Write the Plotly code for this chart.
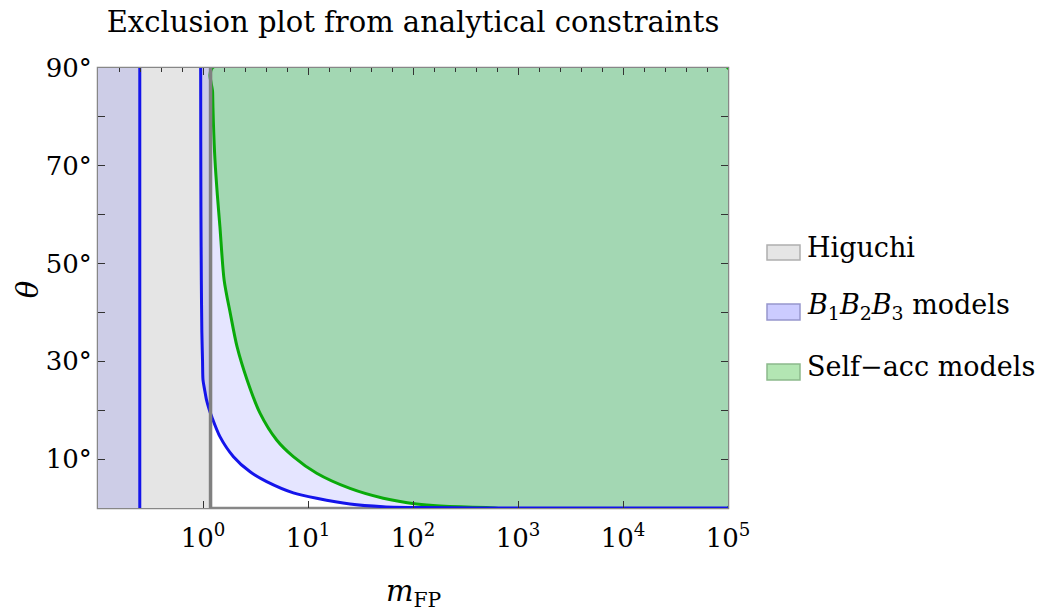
import numpy as np
import plotly.graph_objects as go

# ---------------- data ----------------
X_MIN, X_MAX = 0.1, 1e5            # plotted m_FP range
THETA_MIN, THETA_MAX = 0, 90       # plotted theta range (degrees)

HIGUCHI_M = 1.18                   # Higuchi bound
B_STRIP_M = 0.25                   # B1B2B3 lower strip bound

blue_m = [0.95, 0.952, 0.956, 0.964, 0.975, 0.99, 1.0, 1.04, 1.08, 1.14, 1.21,
          1.45, 1.95, 2.81, 4.04, 7.25, 12.1, 25.1, 52, 120, 400, 1e5]
blue_theta = [90, 75, 60, 46.6, 36, 30, 26.2, 24, 22.1, 20.3, 18.7,
              14.6, 10.5, 7.4, 5.4, 3.1, 2.0, 0.82, 0.27, 0.08, 0.02, 0]

green_m = [1.226, 1.235, 1.255, 1.30, 1.37, 1.45, 1.59, 1.82, 2.11, 2.63, 3.49,
           5.03, 7.25, 12.1, 25.1, 52.1, 108, 181, 500, 1e5]
green_theta = [90, 85, 79, 71.2, 64, 57.5, 46.6, 39.8, 33.0, 26.2, 19.4,
               13.9, 10.5, 7.1, 4.0, 2.0, 0.82, 0.41, 0.1, 0]

x_tick_vals = [1, 10, 100, 1e3, 1e4, 1e5]
x_tick_text = ["10<sup>0</sup>", "10<sup>1</sup>", "10<sup>2</sup>",
               "10<sup>3</sup>", "10<sup>4</sup>", "10<sup>5</sup>"]
y_tick_vals = [10, 30, 50, 70, 90]
y_tick_text = ["10°", "30°", "50°", "70°", "90°"]
y_minor_vals = [0, 20, 40, 60, 80]

legend_labels = ["Higuchi",
                 "<i>B</i><sub>1</sub><i>B</i><sub>2</sub><i>B</i><sub>3</sub> models",
                 "Self\u2212acc models"]

title_text = "Exclusion plot from analytical constraints"
x_title = "<i>m</i><sub>FP</sub>"
y_title = "<i>θ</i>"

# ---------------- styles ----------------
FONT = "DejaVu Serif"
GRAY_FILL = "rgb(229,229,229)"
BLUE_FILL = "rgba(0,0,255,0.10)"
GREEN_FILL = "rgb(163,215,179)"
BLUE_LINE = "rgb(20,20,235)"
GREEN_LINE = "rgb(10,170,10)"
GRAY_LINE = "rgb(128,128,128)"
TICK = "#333333"
legend_fills = ["rgb(229,229,229)", "rgb(204,204,255)", "rgb(179,230,179)"]
legend_edges = ["rgb(175,175,175)", "rgb(150,150,205)", "rgb(140,185,140)"]

fig = go.Figure()

# Higuchi excluded region
fig.add_trace(go.Scatter(
    x=[X_MIN, HIGUCHI_M, HIGUCHI_M, X_MIN], y=[THETA_MIN, THETA_MIN, THETA_MAX, THETA_MAX],
    fill="toself", fillcolor=GRAY_FILL, mode="lines", line=dict(width=0),
    showlegend=False, hoverinfo="skip"))

# B1B2B3 excluded strip (left)
fig.add_trace(go.Scatter(
    x=[X_MIN, B_STRIP_M, B_STRIP_M, X_MIN], y=[THETA_MIN, THETA_MIN, THETA_MAX, THETA_MAX],
    fill="toself", fillcolor=BLUE_FILL, mode="lines", line=dict(width=0),
    showlegend=False, hoverinfo="skip"))

# B1B2B3 excluded region (right of the blue curve)
fig.add_trace(go.Scatter(
    x=blue_m + [X_MAX], y=blue_theta + [THETA_MAX],
    fill="toself", fillcolor=BLUE_FILL, mode="lines",
    line=dict(width=0, shape="spline", smoothing=0.7),
    showlegend=False, hoverinfo="skip"))

# Self-accelerating excluded region
fig.add_trace(go.Scatter(
    x=green_m + [X_MAX, green_m[0]], y=green_theta + [THETA_MAX, green_theta[0]],
    fill="toself", fillcolor=GREEN_FILL, mode="lines",
    line=dict(color=GREEN_LINE, width=3, shape="spline", smoothing=0.8),
    showlegend=False, hoverinfo="skip"))

# blue boundaries
fig.add_trace(go.Scatter(
    x=[B_STRIP_M, B_STRIP_M], y=[THETA_MIN, THETA_MAX], mode="lines",
    line=dict(color=BLUE_LINE, width=3), showlegend=False, hoverinfo="skip"))
fig.add_trace(go.Scatter(
    x=blue_m, y=blue_theta, mode="lines",
    line=dict(color=BLUE_LINE, width=3, shape="spline", smoothing=0.7),
    showlegend=False, hoverinfo="skip"))

# Higuchi boundary
fig.add_trace(go.Scatter(
    x=[HIGUCHI_M, HIGUCHI_M], y=[THETA_MIN, THETA_MAX], mode="lines",
    line=dict(color=GRAY_LINE, width=3.5), showlegend=False, hoverinfo="skip"))

# anchor trace for the top tick axis (draws nothing)
fig.add_trace(go.Scatter(
    x=[X_MIN], y=[THETA_MIN], xaxis="x2", mode="lines", line=dict(width=0),
    showlegend=False, hoverinfo="skip"))

log_range = [np.log10(X_MIN), np.log10(X_MAX)]
top_minor = list(10 ** np.arange(-1.0, 5.001, 0.2))

common = dict(showgrid=False, zeroline=False, layer="above traces",
              tickwidth=1, tickcolor=TICK)

fig.update_layout(
    width=1043, height=612,
    margin=dict(l=98, r=315, t=68, b=104),
    paper_bgcolor="white", plot_bgcolor="white",
    font=dict(family=FONT, size=26, color="black"),
    showlegend=False,
    title=dict(text=title_text, x=0.5, xref="paper", xanchor="center",
               y=1 - 22 / 612, yref="container", yanchor="middle",
               font=dict(family=FONT, size=29, color="black")),
    xaxis=dict(type="log", range=log_range, tickvals=x_tick_vals, ticktext=x_tick_text,
               ticks="inside", ticklen=7, ticklabelstandoff=12, showline=False,
               tickfont=dict(family=FONT, size=26), **common),
    xaxis2=dict(type="log", range=log_range, overlaying="x", side="top", anchor="y",
                tickvals=x_tick_vals, ticks="inside", ticklen=7, showticklabels=False,
                showline=False,
                minor=dict(tickmode="array", tickvals=top_minor, ticks="inside", ticklen=4,
                           tickcolor=TICK, tickwidth=1, showgrid=False),
                **common),
    yaxis=dict(range=[THETA_MIN, THETA_MAX], tickvals=y_tick_vals, ticktext=y_tick_text,
               ticks="inside", ticklen=7,
               showline=True, linecolor="rgba(0,0,0,0)", mirror="ticks",
               minor=dict(tickmode="array", tickvals=y_minor_vals, ticks="inside", ticklen=7,
                          tickcolor=TICK, tickwidth=1, showgrid=False),
               tickfont=dict(family=FONT, size=26), **common),
)

# frame (under the traces so region outlines show on the edges)
fig.add_shape(type="rect", xref="paper", yref="paper", x0=0, x1=1, y0=0, y1=1,
              line=dict(color="rgb(135,135,135)", width=2.5), layer="below")

# axis titles
fig.add_annotation(text=x_title, xref="paper", yref="paper", x=0.5, y=-0.193,
                   xanchor="center", yanchor="middle", showarrow=False,
                   font=dict(family=FONT, size=29))
fig.add_annotation(text=y_title, xref="paper", yref="paper", x=-0.111, y=0.495,
                   xanchor="center", yanchor="middle", showarrow=False, textangle=-90,
                   font=dict(family=FONT, size=29))

# legend (drawn manually)
box_x0, box_x1 = 669 / 630, 702 / 630
box_rows = [(0.5636, 0.5977), (0.4273, 0.4636), (0.2909, 0.3273)]
for (y0, y1), lab, fc, ec in zip(box_rows, legend_labels, legend_fills, legend_edges):
    fig.add_shape(type="rect", xref="paper", yref="paper", x0=box_x0, x1=box_x1,
                  y0=y0, y1=y1, fillcolor=fc, line=dict(color=ec, width=1.5))
    fig.add_annotation(text=lab, xref="paper", yref="paper", x=707 / 630, y=(y0 + y1) / 2 + 0.012,
                       xanchor="left", yanchor="middle", showarrow=False,
                       font=dict(family=FONT, size=27))

fig.write_html("out.html", config={"displayModeBar": False},
               post_script="document.body.style.margin='0';")
